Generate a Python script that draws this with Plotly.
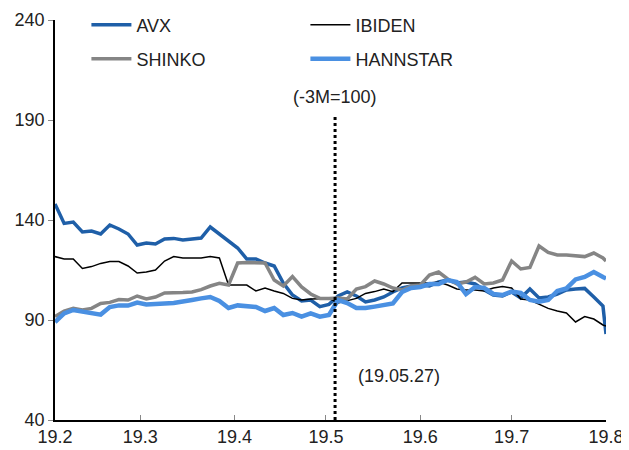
import plotly.graph_objects as go
import pandas as pd

# x categories: sampled trading dates (every 3 days) Feb 1 - Aug 1, 2019
dates = list(pd.date_range("2019-02-01", "2019-07-31", freq="3D").strftime("%Y-%m-%d")) + ["2019-08-01"]

avx = [148, 138.3, 139, 134, 134.5, 133, 137.5, 135.5, 133, 127.5,
       128.5, 128, 130.5, 130.8, 130, 130.5, 131, 136.5, 133, 130,
       126, 120.5, 120.5, 118.5, 117, 108.5, 102.5, 99.5, 100, 96.7,
       97.8, 102, 104, 102, 99, 100, 101.5, 104, 106, 107,
       107.5, 107, 109, 110, 108.5, 109, 108, 105, 102.5, 102,
       104, 101, 105.5, 101, 101.5, 103, 105, 105.5, 105.8, 101.5,
       97, 83]

ibiden = [121.7, 120.5, 120.5, 115.8, 116.7, 118.3, 119.2, 119.2, 117, 113.5,
          114, 115, 119.5, 121.7, 121, 121, 121, 121.7, 121, 107.5,
          107.5, 107.5, 104.5, 106, 104.5, 103.3, 100.8, 100, 100.5, 100.8,
          100.8, 98.5, 99.5, 100.8, 103.3, 104.2, 105.5, 104.2, 108.5, 108.5,
          108.3, 108.5, 109, 107.5, 105.5, 105, 105, 104.5, 106, 106.7,
          106, 100.5, 100, 98, 95.8, 94.5, 93.5, 89, 91.7, 90.5,
          87.5, 87]

shinko = [91.7, 94.5, 95.8, 95, 95.8, 98.3, 98.8, 100.2, 100, 102,
          100.5, 101.5, 103.5, 103.5, 103.7, 104, 105.2, 107, 108.3, 107.5,
          118.5, 118.7, 118.7, 118.5, 110, 107, 111.7, 106.5, 103, 100.8,
          100.8, 101, 100.5, 105.5, 106.7, 109.5, 108, 106, 105, 107,
          107.5, 112.5, 114, 110.5, 108, 109, 111.3, 108, 108.5, 110,
          119.5, 115.5, 116.3, 127, 123.8, 122.5, 122.5, 122, 121.7, 123.5,
          121, 119.5]

hannstar = [89, 93.3, 95, 94.2, 93.3, 92.7, 96.5, 97.3, 97.2, 98.7,
            97.8, 98.3, 98.3, 98.5, 99.5, 100, 100.8, 101.5, 99.5, 96,
            97.3, 96.8, 96.5, 94.5, 96, 92.5, 93.5, 91.7, 93.3, 91.7,
            92.5, 100, 98.5, 96, 96, 96.7, 97.5, 98.3, 104, 106,
            106.5, 108, 108, 110, 109, 103, 106.5, 106, 103, 102.5,
            104.2, 103.5, 100, 99.2, 100, 104.5, 105.8, 110.3, 111.5, 114,
            111.5, 110.8]

tick_dates = ["2019-02-01", "2019-03-01", "2019-04-01", "2019-05-01",
              "2019-06-01", "2019-07-01", "2019-08-01"]
tick_labels = ["19.2", "19.3", "19.4", "19.5", "19.6", "19.7", "19.8"]
event_date = "2019-05-04"

FONT = "Liberation Sans, Arial, sans-serif"

fig = go.Figure()
fig.add_trace(go.Scatter(x=dates, y=avx, name="AVX", mode="lines",
                         line=dict(color="#1F5FA8", width=3.5), legend="legend"))
fig.add_trace(go.Scatter(x=dates, y=ibiden, name="IBIDEN", mode="lines",
                         line=dict(color="#000000", width=1.5), legend="legend"))
fig.add_trace(go.Scatter(x=dates, y=shinko, name="SHINKO", mode="lines",
                         line=dict(color="#858585", width=3.5), legend="legend2"))
fig.add_trace(go.Scatter(x=dates, y=hannstar, name="HANNSTAR", mode="lines",
                         line=dict(color="#4A90E2", width=4.5), legend="legend2"))

fig.add_shape(type="line", xref="x", yref="paper", x0=event_date, x1=event_date,
              y0=0, y1=0.7625, line=dict(color="black", width=3, dash="dot"))

fig.add_annotation(x=event_date, xref="x", y=0.8075, yref="paper",
                   text="(-3M=100)", showarrow=False,
                   font=dict(size=18, color="#222", family=FONT),
                   xanchor="center", yanchor="middle")
fig.add_annotation(x="2019-05-11", xref="x", y=0.11, yref="paper",
                   text="(19.05.27)", showarrow=False,
                   font=dict(size=18, color="#222", family=FONT),
                   xanchor="left", yanchor="middle")

legend_common = dict(orientation="h", xanchor="left", yanchor="middle",
                     font=dict(size=18, color="#222", family=FONT),
                     bgcolor="rgba(0,0,0,0)", entrywidth=164, entrywidthmode="pixels",
                     itemwidth=40, traceorder="normal")

# page body has an 8px default margin, so the figure is sized/offset to fit the window
fig.update_layout(
    width=621, height=442,
    margin=dict(l=47.3, r=22.7, t=12, b=30, autoexpand=False),
    paper_bgcolor="white", plot_bgcolor="white",
    font=dict(family=FONT, size=18, color="#222"),
    showlegend=True,
    legend=dict(x=0.057, y=0.9875, **legend_common),
    legend2=dict(x=0.057, y=0.9025, **legend_common),
    xaxis=dict(type="date", range=["2019-02-01", "2019-08-01"],
               tickvals=tick_dates, ticktext=tick_labels,
               showgrid=False, zeroline=False, automargin=False,
               showline=True, linecolor="black", linewidth=1.5,
               ticks="inside", ticklen=5, tickcolor="#888", tickwidth=1,
               tickfont=dict(size=18, color="#222", family=FONT)),
    yaxis=dict(range=[40, 240], tickvals=[40, 90, 140, 190, 240],
               showgrid=False, zeroline=False, automargin=False,
               showline=True, linecolor="black", linewidth=1.5,
               ticks="outside", ticklen=5, tickcolor="#888", tickwidth=1,
               tickfont=dict(size=18, color="#222", family=FONT)),
)

fig.write_html("out.html")
